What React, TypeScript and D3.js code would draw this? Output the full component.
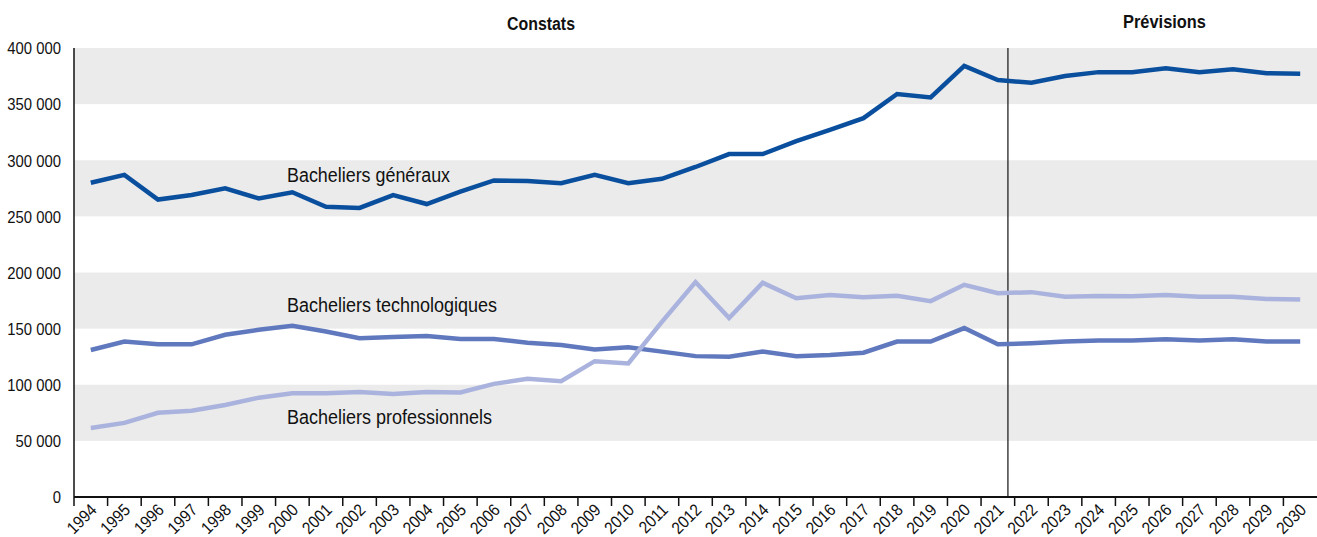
import React, { useRef, useEffect } from 'react';
import * as d3 from 'd3';

const years: string[] = d3.range(1994, 2031).map(String);

// Bacheliers généraux
const generaux: number[] = [
  280000, 287000, 265000, 269000, 275000, 266000, 271500, 258500, 257500, 269000,
  261000, 272000, 282000, 281500, 279500, 287000, 279500, 283500, 294000, 305500,
  305500, 317000, 327000, 337500, 359000, 356000, 384000, 371500, 369000, 375000,
  378500, 378500, 382000, 378500, 381000, 377500, 377000,
];

// Bacheliers technologiques
const technologiques: number[] = [
  131000, 138500, 136000, 136000, 144500, 149000, 152500, 147500, 141500, 142500,
  143500, 140800, 140800, 137500, 135500, 131500, 133500, 129500, 125500, 125000,
  129500, 125500, 126500, 128500, 138500, 138500, 150500, 136000, 137000, 138500,
  139500, 139500, 140500, 139500, 140500, 138500, 138500,
];

// Bacheliers professionnels
const professionnels: number[] = [
  61500, 66000, 75000, 76800, 82000, 88500, 92500, 92500, 93500, 91800,
  93500, 93200, 100800, 105300, 103200, 121000, 119000, 156000, 191500, 159500,
  190800, 177000, 180000, 178000, 179200, 174500, 189000, 181500, 182500, 178500,
  179000, 178800, 180000, 178500, 178500, 176500, 176000,
];

const yTicks: number[] = [0, 50000, 100000, 150000, 200000, 250000, 300000, 350000, 400000];

const seriesList = [
  { name: 'Bacheliers généraux', values: generaux, color: '#0a4f9e' },
  { name: 'Bacheliers technologiques', values: technologiques, color: '#6079be' },
  { name: 'Bacheliers professionnels', values: professionnels, color: '#aab3dd' },
];

// series labels: text, anchor year, value of the baseline, text length
const labels = [
  { text: 'Bacheliers généraux', year: '2000', value: 281000, len: 163 },
  { text: 'Bacheliers technologiques', year: '2000', value: 165000, len: 210 },
  { text: 'Bacheliers professionnels', year: '2000', value: 65000, len: 205 },
];

const FONT = "'Liberation Sans', Arial, sans-serif";
const NARROW = 0.9;

const W = 1317;
const H = 537;

export default function App() {
  const svgRef = useRef<SVGSVGElement>(null);

  useEffect(() => {
    if (!svgRef.current) return;
    const svg = d3.select(svgRef.current);
    svg.selectAll('*').remove();

    const margin = { top: 48, right: 0, bottom: 40, left: 74 };
    const innerW = W - margin.left - margin.right;
    const innerH = H - margin.top - margin.bottom;

    const x = d3.scaleBand<string>().domain(years).range([0, innerW]).padding(0);
    const y = d3.scaleLinear().domain([0, 400000]).range([innerH, 0]);
    const cx = (yr: string) => (x(yr) as number) + x.bandwidth() / 2;

    const g = svg.append('g').attr('transform', `translate(${margin.left},${margin.top})`);

    // grey bands
    for (let i = 0; i < yTicks.length - 1; i++) {
      if (i % 2 === 1) {
        g.append('rect')
          .attr('x', 0)
          .attr('width', innerW)
          .attr('y', y(yTicks[i + 1]))
          .attr('height', y(yTicks[i]) - y(yTicks[i + 1]))
          .attr('fill', '#ebebeb');
      }
    }

    // y tick labels
    g.selectAll('.ylab')
      .data(yTicks)
      .enter()
      .append('text')
      .attr('transform', (d) => `translate(-13,${y(d)}) scale(${NARROW},1)`)
      .attr('dy', '0.38em')
      .attr('text-anchor', 'end')
      .attr('font-family', FONT)
      .attr('font-size', '16.5px')
      .attr('fill', '#111')
      .text((d) => (d === 0 ? '0' : d3.format(',')(d).replace(/,/g, ' ')));

    // constats / prévisions separator
    const sepX = cx('2021') + x.bandwidth() * 0.3;
    g.append('line')
      .attr('x1', sepX)
      .attr('x2', sepX)
      .attr('y1', 0)
      .attr('y2', innerH)
      .attr('stroke', '#111')
      .attr('stroke-width', 1.2);

    // lines
    const line = d3
      .line<number>()
      .x((_, i) => cx(years[i]))
      .y((d) => y(d));

    seriesList.forEach((s) => {
      g.append('path')
        .datum(s.values)
        .attr('d', line)
        .attr('fill', 'none')
        .attr('stroke', s.color)
        .attr('stroke-width', 4.5)
        .attr('stroke-linejoin', 'miter');
    });

    // series labels
    labels.forEach((l) => {
      g.append('text')
        .attr('x', (x(l.year) as number) + 11.5)
        .attr('y', y(l.value))
        .attr('font-family', FONT)
        .attr('font-size', '19.5px')
        .attr('textLength', l.len)
        .attr('lengthAdjust', 'spacingAndGlyphs')
        .attr('fill', '#111')
        .text(l.text);
    });

    // axes
    g.append('line')
      .attr('x1', 0)
      .attr('x2', 0)
      .attr('y1', 0)
      .attr('y2', innerH)
      .attr('stroke', '#111')
      .attr('stroke-width', 1.5);

    g.append('line')
      .attr('x1', 0)
      .attr('x2', innerW)
      .attr('y1', innerH)
      .attr('y2', innerH)
      .attr('stroke', '#111')
      .attr('stroke-width', 2);

    g.selectAll('.xtick')
      .data(years)
      .enter()
      .append('line')
      .attr('x1', (d) => x(d) as number)
      .attr('x2', (d) => x(d) as number)
      .attr('y1', innerH)
      .attr('y2', innerH + 9)
      .attr('stroke', '#111')
      .attr('stroke-width', 1.5);

    g.selectAll('.xlab')
      .data(years)
      .enter()
      .append('text')
      .attr('transform', (d) => `translate(${cx(d) + 7},${innerH + 14}) rotate(-45) scale(${NARROW},1)`)
      .attr('text-anchor', 'end')
      .attr('font-family', FONT)
      .attr('font-size', '17px')
      .attr('fill', '#111')
      .text((d) => d);

    // section titles
    svg.append('text')
      .attr('x', 507)
      .attr('y', 30)
      .attr('font-family', FONT)
      .attr('font-weight', 'bold')
      .attr('font-size', '18px')
      .attr('textLength', 68)
      .attr('lengthAdjust', 'spacingAndGlyphs')
      .attr('fill', '#111')
      .text('Constats');

    svg.append('text')
      .attr('x', 1123)
      .attr('y', 28)
      .attr('font-family', FONT)
      .attr('font-weight', 'bold')
      .attr('font-size', '18px')
      .attr('textLength', 83)
      .attr('lengthAdjust', 'spacingAndGlyphs')
      .attr('fill', '#111')
      .text('Prévisions');
  }, []);

  return (
    <div style={{ position: 'absolute', left: 0, top: 0 }}>
      <svg ref={svgRef} width={W} height={H} style={{ display: 'block', background: '#fff' }} />
    </div>
  );
}
